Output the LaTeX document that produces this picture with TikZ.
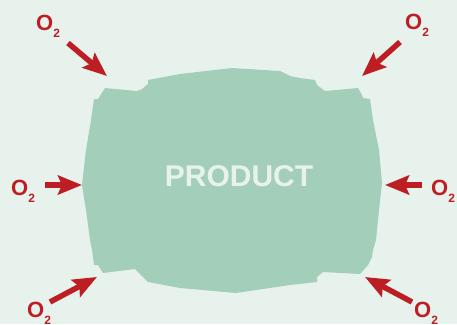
\documentclass[tikz,border=0pt]{standalone}
\usepackage{fontspec}
\setmainfont{Liberation Sans}
\usetikzlibrary{arrows.meta}
\definecolor{bgc}{HTML}{E8F2EC}
\definecolor{prodc}{HTML}{A3CFBA}
\definecolor{oxc}{HTML}{BD1E24}
\tikzset{
  oxarrow/.style={draw=oxc, line width=5.5pt, -{Stealth[length=24pt,width=19pt,inset=4pt]}},
  oxlabel/.style={anchor=base west, inner sep=0pt, text=oxc, font=\bfseries},
}
\newcommand{\oxtwo}{{\fontsize{22}{22}\selectfont O}\raisebox{-7pt}{\fontsize{12}{12}\selectfont 2}}
\begin{document}
\begin{tikzpicture}[x=1pt,y=-1pt]
\fill[bgc] (0,0) rectangle (457,324);
\useasboundingbox (0,0) rectangle (457,324);
% product shape
\fill[prodc] (105,88) -- (137,91) -- (142,89) -- (148,84) -- (148,80) -- (180,74) -- (232,68) -- (280,71) -- (290,76) -- (300,78) -- (315,80) -- (317,85) -- (325,91) -- (358,88) -- (362,95) -- (363,98) -- (370,99) -- (373,120) -- (379,150) -- (382,183) -- (379,210) -- (376,240) -- (373,250) -- (372,257) -- (368,265) -- (360,274) -- (323,272) -- (317,277) -- (317,282) -- (290,285) -- (236,293) -- (180,288) -- (148,282) -- (135,269) -- (103,273) -- (98,265) -- (94,265) -- (92,250) -- (90,240) -- (86,210) -- (82,185) -- (86,150) -- (91,120) -- (94,99) -- (98,99) -- cycle;
\node[text=bgc, font=\bfseries\fontsize{30}{30}\selectfont, inner sep=0pt] (prod) at (239,176) {PRODUCT};
% labels
\node[oxlabel] (otl) at (36,30) {\oxtwo};
\node[oxlabel] (otr) at (405,29) {\oxtwo};
\node[oxlabel] (ol) at (11,195) {\oxtwo};
\node[oxlabel] (or) at (431,195) {\oxtwo};
\node[oxlabel] (obl) at (27,317) {\oxtwo};
\node[oxlabel] (obr) at (414,317) {\oxtwo};
% arrow coordinates
\coordinate (stl) at (68,43);  \coordinate (ttl) at (107,76);
\coordinate (str) at (400,42); \coordinate (ttr) at (362,76);
\coordinate (sl) at (45,185);  \coordinate (tl) at (82,185);
\coordinate (sr) at (422,185); \coordinate (tr) at (385,185);
\coordinate (sbl) at (50,302); \coordinate (tbl) at (97,277);
\coordinate (sbr) at (412,302);\coordinate (tbr) at (365,277);
\draw[oxarrow] (stl) -- (ttl);
\draw[oxarrow] (str) -- (ttr);
\draw[oxarrow] (sl) -- (tl);
\draw[oxarrow] (sr) -- (tr);
\draw[oxarrow] (sbl) -- (tbl);
\draw[oxarrow] (sbr) -- (tbr);
\end{tikzpicture}
\end{document}
